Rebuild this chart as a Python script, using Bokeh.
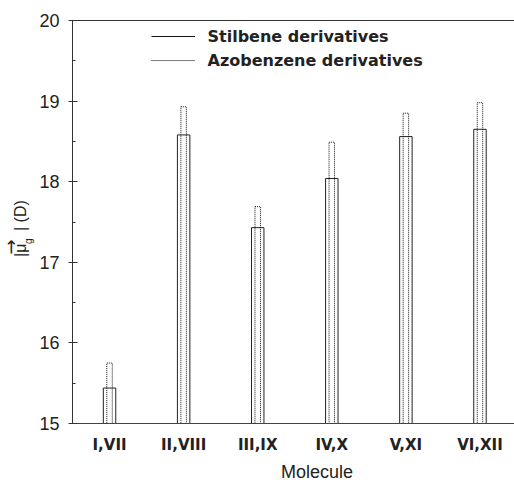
import math
from bokeh.plotting import figure
from bokeh.layouts import row, column
from bokeh.models import Range1d, FixedTicker, LinearAxis, Legend, LegendItem, ColumnDataSource
from bokeh.core.properties import value
from bokeh.embed import file_html
from bokeh.resources import INLINE

molecules = ["I,VII", "II,VIII", "III,IX", "IV,X", "V,XI", "VI,XII"]
stilbene = [15.44, 18.58, 17.43, 18.04, 18.56, 18.65]
azobenzene = [15.75, 18.93, 17.69, 18.49, 18.85, 18.98]
y_ticks = [15, 16, 17, 18, 19, 20]
x_title = "Molecule"

FONT = "Liberation Sans"
BFONT = "DejaVu Sans"
TXT = "#222222"

LEFT_W = 36
MAIN_W = 514 - LEFT_W
MAIN_H = 456
BOT_H = 480 - MAIN_H

xs = list(range(len(molecules)))
src = ColumnDataSource(dict(x=xs, s=stilbene, a=azobenzene, name=molecules))

p = figure(width=MAIN_W, height=MAIN_H, x_range=Range1d(-0.5, 5.466), y_range=Range1d(15, 20),
           output_backend="svg", toolbar_location=None,
           min_border_left=71 - LEFT_W, min_border_right=0, min_border_top=20,
           min_border_bottom=MAIN_H - 423)
p.outline_line_color = None
p.grid.grid_line_color = None
p.background_fill_color = "white"
p.border_fill_color = "white"

p.vbar(x="x", width=0.168, bottom=15, top="s", source=src,
       fill_color=None, line_color="#222222", line_width=1)
p.vbar(x="x", width=0.074, bottom=15, top="a", source=src,
       fill_color=None, line_color="#111111", line_width=1, line_dash="1 1")

# legend entries (line samples only)
nan = float("nan")
r1 = p.line(x=[nan], y=[nan], line_color="#111111", line_width=1)
r2 = p.line(x=[nan], y=[nan], line_color="#000000", line_width=1, line_dash="1 1")
legend = Legend(items=[LegendItem(label="Stilbene derivatives", renderers=[r1]),
                       LegendItem(label="Azobenzene derivatives", renderers=[r2])],
                location=(78.5, 351), padding=0, margin=0, spacing=0,
                glyph_width=44, glyph_height=24, label_height=24, label_standoff=13,
                border_line_color=None, background_fill_alpha=0,
                label_text_font=BFONT, label_text_font_style="bold",
                label_text_font_size="16px", label_text_color=TXT)
p.add_layout(legend)

# y axis
ya = p.yaxis[0]
ya.ticker = FixedTicker(ticks=y_ticks, minor_ticks=[t + 0.5 for t in y_ticks[:-1]])
ya.major_tick_in = 5
ya.major_tick_out = 4
ya.minor_tick_in = 3
ya.minor_tick_out = 0
ya.major_label_standoff = 9
ya.major_label_text_font = FONT
ya.major_label_text_font_size = "18px"
ya.major_label_text_color = TXT
ya.axis_line_color = "#333333"
ya.major_tick_line_color = "#333333"
ya.minor_tick_line_color = "#333333"

# x axis
xa = p.xaxis[0]
xa.ticker = FixedTicker(ticks=xs)
xa.major_label_overrides = {i: m for i, m in zip(xs, molecules)}
xa.major_tick_line_color = None
xa.minor_tick_line_color = None
xa.major_tick_out = 0
xa.major_tick_in = 0
xa.major_label_standoff = 12
xa.major_label_text_font = BFONT
xa.major_label_text_font_style = "bold"
xa.major_label_text_font_size = "15px"
xa.major_label_text_color = TXT
xa.axis_line_color = "#444444"

# top frame line
top = LinearAxis(ticker=FixedTicker(ticks=[]), major_tick_line_color=None,
                 minor_tick_line_color=None, major_label_text_font_size="0px",
                 major_tick_out=0, major_tick_in=0, axis_line_color="#333333")
p.add_layout(top, "above")

# left strip: y axis title |mu_g (vector)| (D)
lf = figure(width=LEFT_W, height=480, x_range=Range1d(0, LEFT_W), y_range=Range1d(0, 480),
            output_backend="svg", toolbar_location=None, x_axis_type=None, y_axis_type=None,
            min_border=0)
lf.outline_line_color = None
lf.grid.grid_line_color = None
ang = math.pi / 2
tk = dict(text_color=TXT, angle=ang, text_align="left", text_baseline="middle")
lf.text(x=[19.5], y=[223.5], text=["|\u03bc"], text_font=value(FONT), text_font_size="16px", **tk)
lf.text(x=[27.5], y=[236.5], text=["g"], text_font=value(FONT), text_font_size="10px", **tk)
lf.text(x=[9.5], y=[226], text=["\u2192"], text_font=value("DejaVu Sans"), text_font_size="18px", **tk)
lf.text(x=[19.5], y=[249.5], text=["| (D)"], text_font=value(FONT), text_font_size="16px", **tk)

# bottom strip: x axis title
bf = figure(width=MAIN_W, height=BOT_H, x_range=Range1d(0, MAIN_W), y_range=Range1d(0, BOT_H),
            output_backend="svg", toolbar_location=None, x_axis_type=None, y_axis_type=None,
            min_border=0)
bf.outline_line_color = None
bf.grid.grid_line_color = None
bf.text(x=[300.5 - LEFT_W], y=[9], text=[x_title], text_font=value(FONT),
        text_font_size="18px", text_color=TXT, text_align="center", text_baseline="middle")

layout = row(lf, column(p, bf, spacing=0), spacing=0)
open("out.html", "w").write(file_html(layout, INLINE))
